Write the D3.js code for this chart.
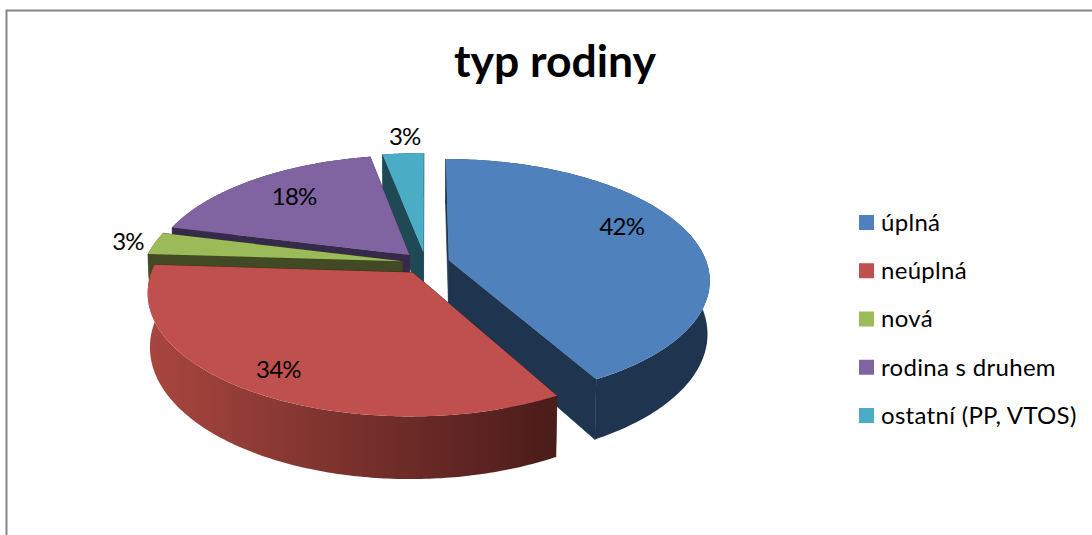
<!DOCTYPE html>
<html><head><meta charset="utf-8">
<script src="https://cdn.jsdelivr.net/npm/d3@7"></script>
<style>html,body{margin:0;padding:0;background:#fff;overflow:hidden}svg{display:block}text{font-family:Lato,"Open Sans",sans-serif;fill:#000}</style>
</head><body><svg id="c" width="1092" height="535"></svg>
<script>
const title = "typ rodiny";
const categories = ["úplná","neúplná","nová","rodina s druhem","ostatní (PP, VTOS)"];
const values = [42,34,3,18,3];
const topColors = ["#4f81bd","#c0504d","#9bbb59","#8064a2","#4bacc6"];
const sideColors = ["#1f344f","#4a1c1a","#414a24","#362a4a","#1f4a55"];
const paintOrder = [4,3,2,0,1];
const labelRadius = [0.77,0.84,1.11,0.74,1.2];
const labelAngleShift = [-0.15,0,0,0.02,0.02];

const cx=425.7, cy=263, R=258, K=118, persp=0.158, explode=0.093, depth=52, lean=0.008;
const svg=d3.select("#c");
const defs=svg.append("defs");
const grad=defs.append("linearGradient").attr("id","redWall").attr("gradientUnits","userSpaceOnUse")
  .attr("x1",150).attr("y1",0).attr("x2",555).attr("y2",0);
grad.append("stop").attr("offset",0).attr("stop-color","#a8463f");
grad.append("stop").attr("offset",1).attr("stop-color","#4a1c1a");

svg.append("path").attr("d",d3.line()([[6.5,535],[6.5,10.5],[1092,10.5]]))
  .attr("fill","none").attr("stroke","#868686").attr("stroke-width",2);

const arcs=d3.pie().sort(null).value(d=>d).startAngle(0).endAngle(2*Math.PI)(values);
function proj(X,Y,z=0){const s=1/(1-persp*Y);return [cx+s*R*X*(1-lean*z), cy+s*K*Y+s*depth*z];}
const line=d3.line();

arcs.forEach(a=>{a.mid=(a.startAngle+a.endAngle)/2;a.ox=explode*Math.sin(a.mid);a.oy=-explode*Math.cos(a.mid);});
function rim(a,t,z){return proj(a.ox+Math.sin(t),a.oy-Math.cos(t),z);}
function apex(a,z){return proj(a.ox,a.oy,z);}
const g=svg.append("g");
paintOrder.forEach(i=>{
  const a=arcs[i];
  const ts=d3.range(0,161).map(n=>a.startAngle+(a.endAngle-a.startAngle)*n/160);
  const side=sideColors[i];
  const sl=g.append("g");
  [a.startAngle,a.endAngle].forEach(t=>{
    sl.append("path").attr("d",line([apex(a,0),rim(a,t,0),rim(a,t,1),apex(a,1)])+"Z")
      .attr("fill",side).attr("stroke",side).attr("stroke-width",0.6);
  });
  const wall=[...ts.map(t=>rim(a,t,0)),...ts.slice().reverse().map(t=>rim(a,t,1))];
  sl.append("path").attr("d",line(wall)+"Z").attr("fill",i===1?"url(#redWall)":side);
  sl.append("path").attr("d",line([apex(a,0),...ts.map(t=>rim(a,t,0))])+"Z").attr("fill",topColors[i]);
});
arcs.forEach((a,i)=>{
  const r=labelRadius[i], t=a.mid+labelAngleShift[i];
  const p=proj(a.ox+r*Math.sin(t),a.oy-r*Math.cos(t));
  svg.append("text").attr("x",p[0]).attr("y",p[1]).attr("dy","0.35em").attr("text-anchor","middle")
    .attr("font-size",24).attr("letter-spacing",-0.8).text(d3.format(".0f")(a.value)+"%");
});
svg.append("text").attr("x",555).attr("y",77).attr("text-anchor","middle").attr("font-size",44.5).attr("font-weight",700).text(title);
const ly=d3.scalePoint().domain(categories).range([222.5,415.5]);
const lg=svg.selectAll("g.l").data(categories).join("g").attr("class","l").attr("transform",d=>`translate(859,${ly(d)})`);
lg.append("rect").attr("x",0).attr("y",-7.5).attr("width",15).attr("height",15).attr("fill",(d,i)=>topColors[i]);
lg.append("text").attr("x",22).attr("dy","0.35em").attr("font-size",24).attr("letter-spacing",0.3).text(d=>d);
</script></body></html>
